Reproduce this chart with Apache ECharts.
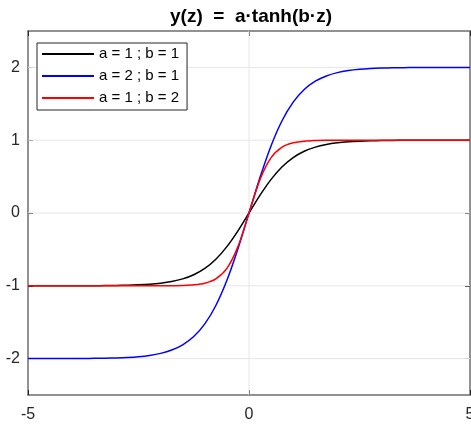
<!DOCTYPE html>
<html>
<head>
<meta charset="utf-8">
<script src="https://cdn.jsdelivr.net/npm/echarts@6/dist/echarts.min.js"></script>
<style>html,body{margin:0;padding:0;background:#fff;}#c{width:471px;height:425px;}</style>
</head>
<body>
<div id="c"></div>
<script>
const titleText = 'y(z)  =  a\u00b7tanh(b\u00b7z)';
const seriesNames = ['a = 1 ; b = 1', 'a = 2 ; b = 1', 'a = 1 ; b = 2'];
const seriesColors = ['#000000', '#0000ff', '#ff0000'];
const xTicks = [-5, 0, 5];
const yTicks = [-2, -1, 0, 1, 2];
const xRange = [-5, 5];
const yRange = [-2.5, 2.5];
const zValues = [-5, -4.75, -4.5, -4.25, -4, -3.75, -3.5, -3.25, -3, -2.75, -2.5, -2.25, -2, -1.75, -1.5, -1.25, -1, -0.75, -0.5, -0.25, 0,
  0.25, 0.5, 0.75, 1, 1.25, 1.5, 1.75, 2, 2.25, 2.5, 2.75, 3, 3.25, 3.5, 3.75, 4, 4.25, 4.5, 4.75, 5];
const yA1B1 = [-0.9999, -0.9999, -0.9998, -0.9996, -0.9993, -0.9989, -0.9982, -0.9970, -0.9951, -0.9919, -0.9866, -0.9780, -0.9640, -0.9414, -0.9051, -0.8483, -0.7616, -0.6351, -0.4621, -0.2449, 0,
  0.2449, 0.4621, 0.6351, 0.7616, 0.8483, 0.9051, 0.9414, 0.9640, 0.9780, 0.9866, 0.9919, 0.9951, 0.9970, 0.9982, 0.9989, 0.9993, 0.9996, 0.9998, 0.9999, 0.9999];
const yA2B1 = [-1.9998, -1.9997, -1.9995, -1.9992, -1.9987, -1.9978, -1.9964, -1.9940, -1.9901, -1.9837, -1.9732, -1.9559, -1.9281, -1.8828, -1.8103, -1.6966, -1.5232, -1.2703, -0.9242, -0.4898, 0,
  0.4898, 0.9242, 1.2703, 1.5232, 1.6966, 1.8103, 1.8828, 1.9281, 1.9559, 1.9732, 1.9837, 1.9901, 1.9940, 1.9964, 1.9978, 1.9987, 1.9992, 1.9995, 1.9997, 1.9998];
const yA1B2 = [-1.0000, -1.0000, -1.0000, -1.0000, -1.0000, -1.0000, -1.0000, -0.99999, -0.99999, -0.99997, -0.99991, -0.99975, -0.99933, -0.99818, -0.99505, -0.98661, -0.96403, -0.90515, -0.76159, -0.46212, 0,
  0.46212, 0.76159, 0.90515, 0.96403, 0.98661, 0.99505, 0.99818, 0.99933, 0.99975, 0.99991, 0.99997, 0.99999, 0.99999, 1.0000, 1.0000, 1.0000, 1.0000, 1.0000, 1.0000, 1.0000];
const seriesValues = [yA1B1, yA2B1, yA1B2];

const FONT = '"Liberation Sans", Arial, Helvetica, sans-serif';
const frameColor = '#6e6e6e';
const tickColor = '#262626';
const textColor = '#262626';
const gridColor = '#e6e6e6';

const chart = echarts.init(document.getElementById('c'), null, {renderer: 'canvas'});

function axisBase(showLabel, customTicks) {
  const tick = {show: true, inside: true, length: 5, lineStyle: {color: tickColor, width: 1}};
  const label = {show: showLabel, color: textColor, fontFamily: FONT, fontSize: 16, margin: 8};
  if (customTicks) { tick.customValues = customTicks; label.customValues = customTicks; }
  return {
    axisLine: {show: true, onZero: false, lineStyle: {color: frameColor, width: 1.5}},
    axisTick: tick,
    axisLabel: label,
    splitLine: {show: false}
  };
}

const series = [];
// light grid lines (drawn beneath the curves)
yTicks.forEach(v => {
  series.push({type: 'line', silent: true, z: 1, showSymbol: false, legendHoverLink: false,
    data: [[xRange[0], v], [xRange[1], v]],
    lineStyle: {color: gridColor, width: 1}, tooltip: {show: false}});
});
xTicks.filter(v => v > xRange[0] && v < xRange[1]).forEach(v => {
  series.push({type: 'line', silent: true, z: 1, showSymbol: false, legendHoverLink: false,
    data: [[v, yRange[0]], [v, yRange[1]]],
    lineStyle: {color: gridColor, width: 1}, tooltip: {show: false}});
});
seriesValues.forEach((vals, i) => {
  series.push({
    name: seriesNames[i],
    type: 'line',
    data: zValues.map((z, k) => [z, vals[k]]),
    showSymbol: false,
    smooth: 0.3,
    z: 3,
    lineStyle: {color: seriesColors[i], width: 1.5},
    itemStyle: {color: seriesColors[i]}
  });
});

const option = {
  animation: false,
  backgroundColor: '#ffffff',
  title: {
    text: titleText,
    left: 251, top: 7, textAlign: 'center', padding: 0,
    textStyle: {fontFamily: FONT, fontSize: 19, fontWeight: 'bold', color: '#000', lineHeight: 19}
  },
  legend: {
    data: seriesNames,
    orient: 'vertical',
    left: 37, top: 43,
    padding: [3, 8, 4, 5],
    itemGap: 6,
    itemWidth: 52,
    itemHeight: 2,
    icon: 'rect',
    backgroundColor: '#ffffff',
    borderColor: tickColor,
    borderWidth: 1,
    borderRadius: 0,
    textStyle: {fontFamily: FONT, fontSize: 15, lineHeight: 16, color: '#000'}
  },
  grid: {left: 28, top: 31, right: 1, bottom: 30, containLabel: false, outerBoundsMode: 'none'},
  xAxis: [
    Object.assign({type: 'value', min: xRange[0], max: xRange[1], interval: 5, position: 'bottom'}, axisBase(true, null)),
    Object.assign({type: 'value', min: xRange[0], max: xRange[1], interval: 5, position: 'top'}, axisBase(false, null))
  ],
  yAxis: [
    Object.assign({type: 'value', min: yRange[0], max: yRange[1], interval: 0.5, position: 'left'}, axisBase(true, yTicks)),
    Object.assign({type: 'value', min: yRange[0], max: yRange[1], interval: 0.5, position: 'right'}, axisBase(false, yTicks))
  ],
  series: series
};
option.xAxis[0].axisLabel.margin = 12;
chart.setOption(option);
</script>
</body>
</html>
